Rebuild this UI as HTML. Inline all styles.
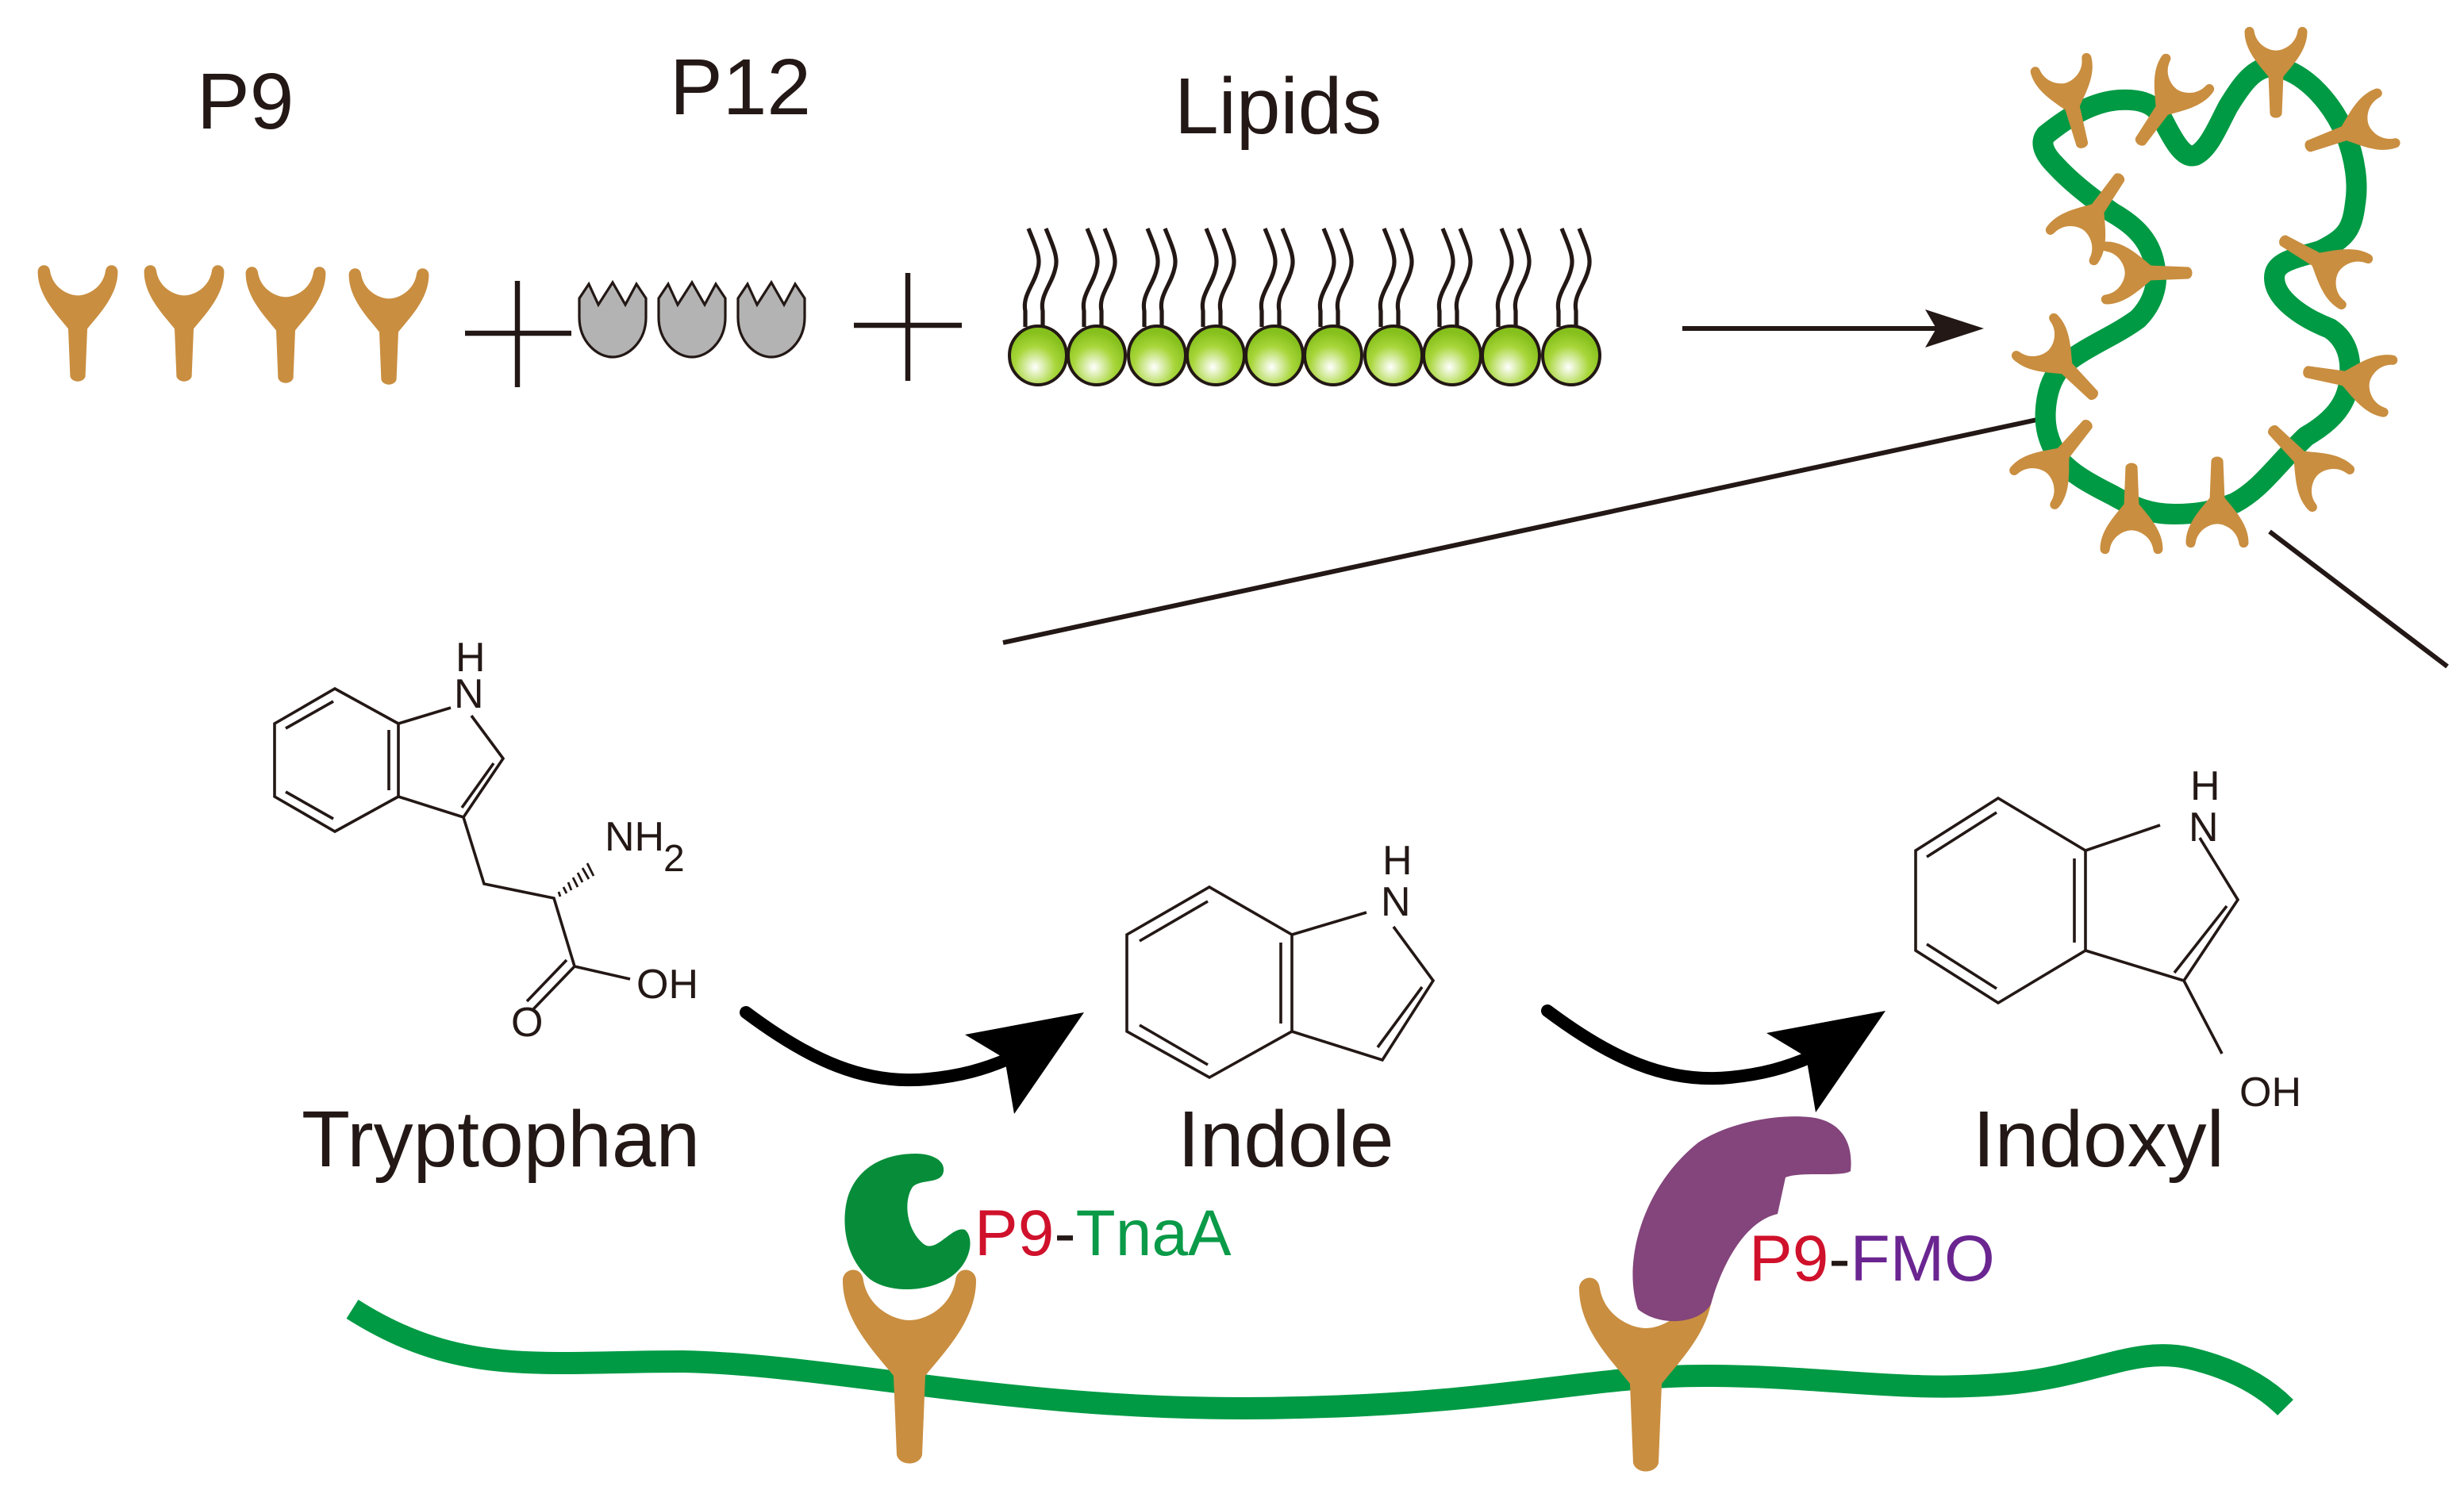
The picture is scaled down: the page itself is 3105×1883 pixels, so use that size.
<!DOCTYPE html>
<html><head><meta charset="utf-8"><style>
html,body{margin:0;padding:0;background:#fff;}
svg{display:block;}
text{font-family:"Liberation Sans",Arial,sans-serif;}
</style></head><body>
<svg width="3105" height="1883" viewBox="0 0 1552.5 941.5" xmlns="http://www.w3.org/2000/svg">
<defs>
<path id="y" d="M-42,-53 C-42,-61 -30,-63 -29,-53 C-26,-36 -10,-28 0,-28 C10,-28 26,-36 29,-53 C30,-63 42,-61 42,-53 C42,-28 22,-8 10,7 L8,57 C6,64 -6,64 -8,57 L-10,7 C-22,-8 -42,-28 -42,-53 Z" fill="#c98e40"/>
<radialGradient id="lg" cx="0.45" cy="0.7" r="0.6">
<stop offset="0" stop-color="#ffffff"/><stop offset="0.6" stop-color="#a8d63a"/><stop offset="1" stop-color="#86c01c"/>
</radialGradient>
<g id="lip">
<path d="M-6,-80 C-2,-70 2,-62 0,-55 C-2,-45 -10,-38 -8,-28 L-8,-18 M5,-80 C9,-70 13,-62 11,-55 C9,-45 1,-38 3,-28 L3,-18" fill="none" stroke="#231815" stroke-width="2.6"/>
<ellipse cx="0" cy="0" rx="18" ry="18.5" fill="url(#lg)" stroke="#231815" stroke-width="2"/>
</g>
<path id="shell" d="M365,188 L371,179 L377,192 L386,178 L394,192 L401,179 L407,188 L407,200 C407,215 396,225 386,225 C376,225 365,215 365,200 Z" fill="#b3b3b3" stroke="#231815" stroke-width="1.6"/>
<g id="carrow">
<path d="M470,638 C510,668 545,684 585,680 C605,678 620,674 636,667" fill="none" stroke="#000" stroke-width="8" stroke-linecap="round"/>
<path d="M608,652 L683,638 L639,702 L633,667 Z" fill="#000"/>
</g>
</defs>

<!-- top labels -->
<text x="124" y="81" font-size="50" fill="#231815">P9</text>
<text x="422" y="72" font-size="50" fill="#231815">P12</text>
<text x="740" y="84" font-size="50" fill="#231815">Lipids</text>

<!-- P9 Ys -->
<use href="#y" transform="translate(49,203) scale(0.6)"/>
<use href="#y" transform="translate(116,203) scale(0.6)"/>
<use href="#y" transform="translate(180,204) scale(0.6)"/>
<use href="#y" transform="translate(245,205) scale(0.6)"/>

<!-- plus 1 -->
<path d="M293,210 L360,210 M326,177 L326,244" stroke="#231815" stroke-width="3.2"/>
<use href="#shell"/>
<use href="#shell" transform="translate(50,0)"/>
<use href="#shell" transform="translate(100,0)"/>
<!-- plus 2 -->
<path d="M538,205 L606,205 M572,172 L572,240" stroke="#231815" stroke-width="3.2"/>

<!-- lipids -->
<use href="#lip" transform="translate(654,224)"/>
<use href="#lip" transform="translate(691,224)"/>
<use href="#lip" transform="translate(729,224)"/>
<use href="#lip" transform="translate(766,224)"/>
<use href="#lip" transform="translate(803,224)"/>
<use href="#lip" transform="translate(840,224)"/>
<use href="#lip" transform="translate(878,224)"/>
<use href="#lip" transform="translate(915,224)"/>
<use href="#lip" transform="translate(952,224)"/>
<use href="#lip" transform="translate(990,224)"/>

<!-- straight arrow -->
<path d="M1060,207 L1228,207" stroke="#231815" stroke-width="3"/>
<path d="M1213,195 L1250,207 L1213,219 L1220,207 Z" fill="#231815"/>

<!-- zoom lines -->
<path d="M632,405 L1295,262" stroke="#231815" stroke-width="3"/>
<path d="M1430,335 L1542,420" stroke="#231815" stroke-width="3"/>

<!-- vesicle -->
<path d="M1289,85 C1305,72 1320,64 1335,63 C1350,62 1358,66 1362,74 C1370,90 1376,100 1383,98 C1392,94 1398,78 1404,67 C1412,54 1420,42 1432,42 C1450,44 1468,62 1478,85 C1484,100 1486,116 1484,128 C1482,145 1478,150 1462,158 C1445,163 1433,165 1433,175 C1433,188 1450,200 1468,207 C1480,215 1482,228 1480,241 C1478,258 1465,268 1453,275 C1435,292 1425,308 1408,317 C1395,322 1385,324 1370,324 C1355,324 1345,320 1331,312 C1315,304 1305,298 1298,290 C1290,278 1288,268 1289,257 C1290,245 1294,236 1300,230 C1315,218 1332,212 1347,201 C1356,192 1360,180 1358,170 C1356,152 1345,142 1331,134 C1318,125 1305,115 1295,104 C1288,97 1285,90 1289,85 Z" fill="none" stroke="#009a44" stroke-width="13" stroke-linejoin="round"/>

<!-- vesicle Ys -->
<use href="#y" transform="translate(1434,45) rotate(0) scale(0.47)"/>
<use href="#y" transform="translate(1305,65) rotate(-15) scale(0.47)"/>
<use href="#y" transform="translate(1364,67) rotate(35) scale(0.47)"/>
<use href="#y" transform="translate(1480,83) rotate(70) scale(0.47)"/>
<use href="#y" transform="translate(1320,134) rotate(215) scale(0.47)"/>
<use href="#y" transform="translate(1352,172) rotate(-90) scale(0.47)"/>
<use href="#y" transform="translate(1462,165) rotate(120) scale(0.47)"/>
<use href="#y" transform="translate(1300,230) rotate(-45) scale(0.47)"/>
<use href="#y" transform="translate(1480,239) rotate(100) scale(0.47)"/>
<use href="#y" transform="translate(1298,288) rotate(220) scale(0.47)"/>
<use href="#y" transform="translate(1343,321) rotate(180) scale(0.47)"/>
<use href="#y" transform="translate(1397,317) rotate(180) scale(0.47)"/>
<use href="#y" transform="translate(1451,290) rotate(135) scale(0.47)"/>

<!-- tryptophan -->
<g fill="none" stroke="#231815" stroke-width="1.8">
<path d="M211,434 L251,456 L251,502 L211,524 L173,502 L173,456 Z"/>
<path d="M210,442 L180,459 M245,460 L245,498 M180,499 L210,516"/>
<path d="M251,456 L284,446 M297,451 L317,478 L292,515 L251,502 M311,481 L291,509"/>
<path d="M292,515 L305,557 L349,566 L362,609 L397,617 M362,609 L336,636 M357,605 L332,631"/>
</g>
<g stroke="#231815" stroke-width="1.4">
<path d="M352,562 L353,565 M355,559 L357,563 M358,556 L360,561 M361,553 L364,559 M364,550 L367,556 M367,547 L371,554 M370,544 L374,552"/>
</g>
<g fill="#231815" font-size="26">
<text x="287" y="423">H</text>
<text x="286" y="446">N</text>
<text x="381" y="536">NH</text>
<text x="418" y="549" font-size="24">2</text>
<text x="401" y="629">OH</text>
<text x="322" y="653">O</text>
</g>
<text x="190" y="735" font-size="50" fill="#231815">Tryptophan</text>

<!-- indole -->
<g fill="none" stroke="#231815" stroke-width="1.8">
<path d="M762,559 L814,589 L814,650 L762,679 L710,650 L710,589 Z"/>
<path d="M761,568 L718,593 M807,594 L807,645 M718,646 L761,671"/>
<path d="M814,589 L861,575 M878,584 L903,618 L871,668 L814,650 M896,622 L868,660"/>
</g>
<g fill="#231815" font-size="26">
<text x="871" y="551">H</text>
<text x="870" y="577">N</text>
</g>
<text x="742" y="735" font-size="50" fill="#231815">Indole</text>

<!-- indoxyl -->
<g fill="none" stroke="#231815" stroke-width="1.8">
<path d="M1259,503 L1314,536 L1314,599 L1259,632 L1207,599 L1207,536 Z"/>
<path d="M1258,512 L1214,540 M1307,541 L1307,594 M1214,595 L1258,623"/>
<path d="M1314,536 L1361,520 M1386,528 L1410,567 L1376,618 L1314,599 M1403,571 L1370,613"/>
<path d="M1376,618 L1400,664"/>
</g>
<g fill="#231815" font-size="26">
<text x="1380" y="504">H</text>
<text x="1379" y="530">N</text>
<text x="1411" y="697">OH</text>
</g>
<text x="1243" y="735" font-size="50" fill="#231815">Indoxyl</text>

<!-- curved arrows -->
<use href="#carrow"/>
<use href="#carrow" transform="translate(505,-1)"/>

<!-- membrane -->
<path d="M222,825 C290,868 340,858 430,858 C530,860 650,892 819,887 C950,884 1000,867 1074,867 C1150,867 1200,878 1265,872 C1320,867 1345,848 1380,856 C1405,862 1425,872 1440,887" fill="none" stroke="#009a44" stroke-width="14"/>

<!-- membrane Ys -->
<use href="#y" transform="translate(573,860)"/>
<use href="#y" transform="translate(1037,865)"/>

<!-- TnaA -->
<path d="M577,727 C588,727 597,732 594,740 C591,746 580,743 575,748 C569,757 571,775 582,784 C590,790 600,772 608,775 C614,780 612,795 600,804 C585,815 560,815 548,806 C532,792 530,770 534,755 C540,735 558,727 577,727 Z" fill="#078d3a"/>
<!-- FMO -->
<path d="M1140,704 C1160,706 1168,720 1166,738 C1160,742 1135,738 1125,742 L1120,765 C1098,770 1084,800 1078,822 C1070,835 1045,836 1032,825 C1022,795 1035,748 1070,720 C1090,707 1120,702 1140,704 Z" fill="#83457b"/>

<text x="614" y="791" font-size="41"><tspan fill="#d0112b">P9</tspan><tspan fill="#231815">-</tspan><tspan fill="#0a9a48">TnaA</tspan></text>
<text x="1102" y="807" font-size="41"><tspan fill="#d0112b">P9</tspan><tspan fill="#231815">-</tspan><tspan fill="#6a2590">FMO</tspan></text>
</svg>
</body></html>
